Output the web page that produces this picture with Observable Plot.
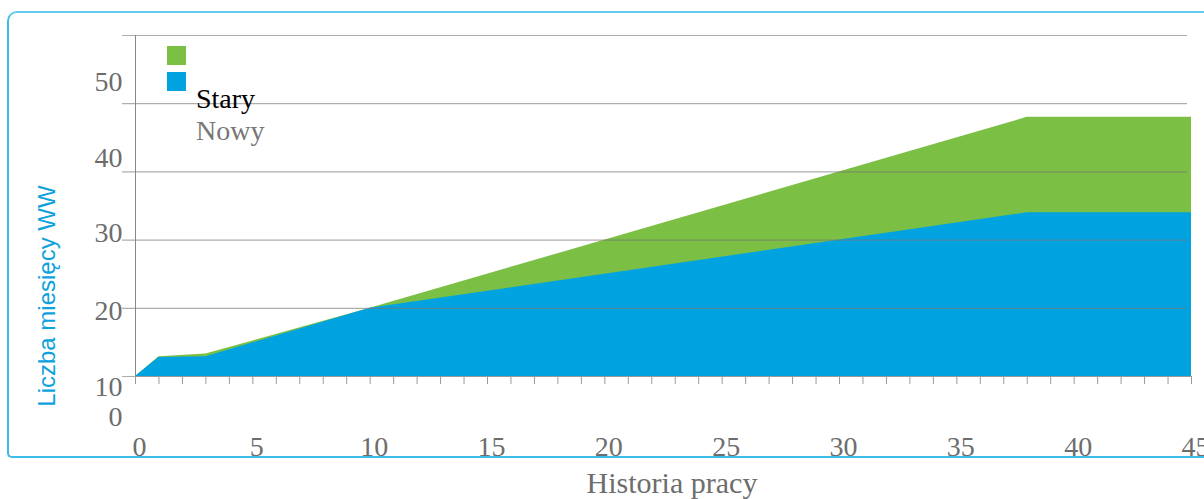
<!DOCTYPE html>
<html>
<head>
<meta charset="utf-8">
<script src="https://cdn.jsdelivr.net/npm/d3@7"></script>
<script src="https://cdn.jsdelivr.net/npm/@observablehq/plot@0.6"></script>
<style>
  html, body { margin: 0; padding: 0; background: #fff; overflow: hidden; }
  #wrap { position: relative; width: 1204px; height: 499px; overflow: hidden; }
  #frame { position: absolute; left: 7px; top: 11px; width: 1210px; height: 443px;
           border: 2px solid #3dbbea; border-right: none; border-top-color: #62cbf2;
           border-radius: 10px 0 0 5px; }
  #chart { position: absolute; left: 0; top: 0; }
  #overlay { position: absolute; left: 0; top: 0; pointer-events: none; }
</style>
</head>
<body>
<div id="wrap">
  <div id="frame"></div>
  <div id="chart"></div>
  <svg id="overlay" width="1204" height="499"></svg>
</div>
<script>
// ---- data ----
const years = [0, 1, 3, 10, 38, 45];
const stary = [10, 12.9, 13.3, 20, 48, 48];   // green
const nowy  = [10, 12.8, 12.9, 20, 34, 34];   // blue
const yGrid = [10, 20, 30, 40, 50, 60];
const yTickLabels = [0, 10, 20, 30, 40, 50];
const xTickLabels = [0, 5, 10, 15, 20, 25, 30, 35, 40, 45];
const xMinorTicks = d3.range(0, 46);
const seriesNames = ["Stary", "Nowy"];
const xTitle = "Historia pracy";
const yTitle = "Liczba miesięcy WW";

// ---- styling ----
const green = "#7bbf44";
const blue = "#00a3e0";
const yLabelNudge = [-28, 11, 3, -7, -14, -22];

const staryData = years.map((x, i) => ({x, y: stary[i]}));
const nowyData = years.map((x, i) => ({x, y: nowy[i]}));

const plot = Plot.plot({
  width: 1204,
  height: 499,
  marginLeft: 135,
  marginRight: 13,
  marginTop: 35,
  marginBottom: 123,
  x: {domain: [0, 45], axis: null},
  y: {domain: [10, 60], axis: null},
  style: {fontFamily: "'Liberation Serif', serif", fontSize: "28px", color: "#6b6b6b", background: "transparent"},
  marks: [
    Plot.areaY(staryData, {x: "x", y: "y", y1: 10, fill: green}),
    Plot.areaY(nowyData, {x: "x", y: "y", y1: 10, fill: blue}),
    Plot.ruleY(yGrid, {stroke: "#777", strokeOpacity: 0.6, strokeWidth: 1.2, insetLeft: -13, insetRight: 4}),
    Plot.ruleX([0], {stroke: "#888", insetBottom: -8}),
    Plot.ruleX(xMinorTicks, {y1: 10, y2: 10, insetBottom: -8, stroke: "#999"}),
    Plot.ruleY([10], {stroke: "#999"}),
    ...yTickLabels.map((v, i) => Plot.text([v], {
      y: d => d, text: d => String(d), frameAnchor: "left", textAnchor: "end",
      dx: -13, dy: yLabelNudge[i], fill: "#6d6d6d", fontSize: 28
    })),
    Plot.text(xTickLabels, {x: d => d, y: 10, text: d => String(d), dy: 71, dx: 4, fill: "#6d6d6d", fontSize: 28})
  ]
});
document.getElementById("chart").appendChild(plot);

// ---- titles & legend ----
const ov = d3.select("#overlay");
ov.append("text").attr("x", 672).attr("y", 493).attr("text-anchor", "middle")
  .attr("font-family", "'Liberation Serif', serif").attr("font-size", 30).attr("fill", "#6d6d6d")
  .text(xTitle);
ov.append("text").attr("transform", "translate(55,296) rotate(-90)").attr("text-anchor", "middle")
  .attr("font-family", "'Liberation Sans', Arial, sans-serif").attr("font-size", 24).attr("fill", "#0ea2dd")
  .text(yTitle);
const legColors = [green, blue];
legColors.forEach((c, i) => {
  ov.append("rect").attr("x", 167).attr("y", 46 + i * 26).attr("width", 19).attr("height", 19).attr("fill", c);
});
const legTextColors = ["#000", "#777"];
seriesNames.forEach((n, i) => {
  ov.append("text").attr("x", 196).attr("y", 108 + i * 32)
    .attr("font-family", "'Liberation Serif', serif").attr("font-size", 28).attr("fill", legTextColors[i])
    .text(n);
});
</script>
</body>
</html>
